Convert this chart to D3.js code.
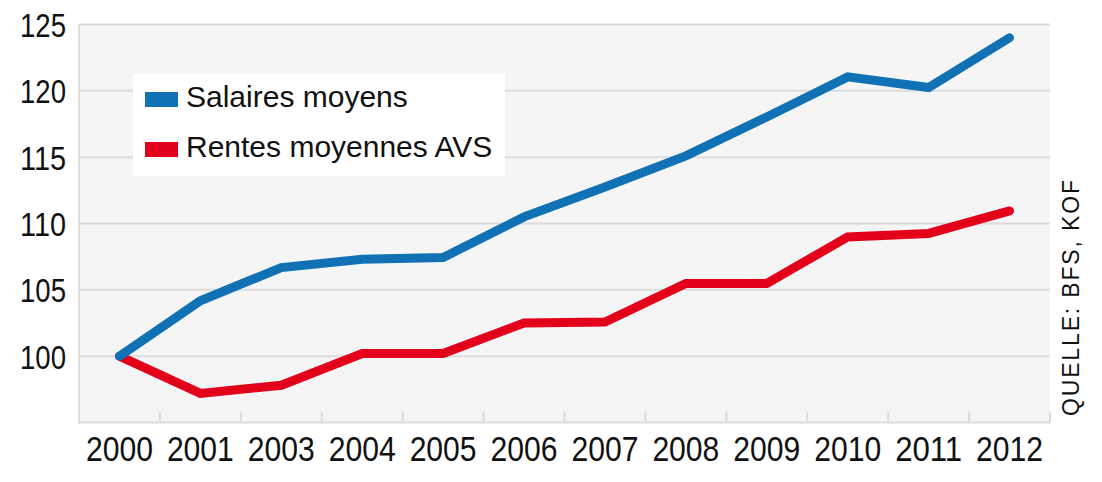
<!DOCTYPE html>
<html lang="fr">
  <head>
    <meta charset="UTF-8" />
    <script src="https://d3js.org/d3.v7.min.js"></script>
    <style>
      body { margin: 0; background: #fff; }
      text { fill: #111; }
    </style>
  </head>
  <body>
    <div id="chart"></div>
    <script>
      // data (index 2000 = 100)
      const years = ['2000', '2001', '2003', '2004', '2005', '2006', '2007', '2008', '2009', '2010', '2011', '2012']
      const salaires = [100, 104.17, 106.68, 107.31, 107.44, 110.5, 112.75, 115.1, 118.03, 121.05, 120.25, 124.0]
      const rentes = [100, 97.19, 97.81, 100.2, 100.2, 102.5, 102.58, 105.48, 105.48, 108.99, 109.25, 110.95]
      const yTicks = [100, 105, 110, 115, 120, 125]
      const seriesNames = ['Salaires moyens', 'Rentes moyennes AVS']
      const source = 'QUELLE: BFS, KOF'

      const width = 1102, height = 482
      const plotLeft = 79, plotRight = 1050, plotTop = 24.5, plotBottom = 422.5
      const blue = '#1071b5', red = '#e2001a', grid = '#dcdcdc'
      // no condensed font installed, so squeeze the regular one
      const narrow = '"Liberation Sans Narrow", "Liberation Sans", sans-serif'

      const svg = d3
        .select('#chart')
        .append('svg')
        .attr('width', width)
        .attr('height', height)

      const x = d3.scaleBand().domain(years).range([plotLeft, plotRight])
      const y = d3.scaleLinear().domain([95, 125]).range([plotBottom, plotTop])

      // plot background
      svg
        .append('rect')
        .attr('x', plotLeft)
        .attr('y', y(125))
        .attr('width', plotRight - plotLeft)
        .attr('height', plotBottom - y(125))
        .attr('fill', '#f5f5f5')

      // horizontal grid lines
      svg
        .append('g')
        .selectAll('line')
        .data(yTicks)
        .join('line')
        .attr('x1', plotLeft)
        .attr('x2', plotRight)
        .attr('y1', d => y(d))
        .attr('y2', d => y(d))
        .attr('stroke', grid)
        .attr('stroke-width', 2)

      // Y axis labels
      const yAxis = svg
        .append('g')
        .attr('transform', `translate(${plotLeft}, 0)`)
        .call(d3.axisLeft(y).tickValues(yTicks).tickSize(0).tickPadding(13))
      yAxis.select('.domain').remove()
      yAxis
        .selectAll('text')
        .attr('font-family', narrow)
        .attr('font-size', 33)
        .attr('fill', '#111')
        .attr('dy', '0.36em')
        .attr('textLength', 46)
        .attr('lengthAdjust', 'spacingAndGlyphs')

      // X axis: short ticks on band edges + labels
      svg
        .append('g')
        .selectAll('line')
        .data(years)
        .join('line')
        .attr('x1', d => x(d) + x.bandwidth())
        .attr('x2', d => x(d) + x.bandwidth())
        .attr('y1', plotBottom - 11)
        .attr('y2', plotBottom)
        .attr('stroke', grid)
        .attr('stroke-width', 2)

      const xAxis = svg
        .append('g')
        .attr('transform', `translate(0, ${plotBottom})`)
        .call(d3.axisBottom(x).tickSize(0).tickPadding(14))
      xAxis.select('.domain').remove()
      xAxis
        .selectAll('text')
        .attr('font-family', narrow)
        .attr('font-size', 35)
        .attr('fill', '#111')
        .attr('textLength', 67)
        .attr('lengthAdjust', 'spacingAndGlyphs')

      // axis lines
      svg
        .append('line')
        .attr('x1', plotLeft)
        .attr('x2', plotLeft)
        .attr('y1', y(125))
        .attr('y2', plotBottom + 1)
        .attr('stroke', grid)
        .attr('stroke-width', 2)
      svg
        .append('line')
        .attr('x1', plotLeft)
        .attr('x2', plotRight)
        .attr('y1', plotBottom)
        .attr('y2', plotBottom)
        .attr('stroke', grid)
        .attr('stroke-width', 2)

      // lines
      const line = d3
        .line()
        .x((d, i) => x(years[i]) + x.bandwidth() / 2)
        .y(d => y(d))

      ;[[rentes, red], [salaires, blue]].forEach(([values, color]) => {
        svg
          .append('path')
          .datum(values)
          .attr('d', line)
          .attr('fill', 'none')
          .attr('stroke', color)
          .attr('stroke-width', 9)
          .attr('stroke-linecap', 'round')
          .attr('stroke-linejoin', 'miter')
      })

      // legend
      const legend = svg.append('g')
      legend
        .append('rect')
        .attr('x', 133)
        .attr('y', 74)
        .attr('width', 372)
        .attr('height', 102)
        .attr('fill', '#fff')
      const items = legend
        .selectAll('g')
        .data(seriesNames)
        .join('g')
        .attr('transform', (d, i) => `translate(145, ${92 + i * 50})`)
      items
        .append('rect')
        .attr('width', 33)
        .attr('height', 15)
        .attr('fill', (d, i) => [blue, red][i])
      items
        .append('text')
        .attr('x', 41)
        .attr('y', 15)
        .attr('font-family', '"Liberation Sans", Arial, sans-serif')
        .attr('font-size', 30)
        .text(d => d)

      // source, spaced out
      svg
        .append('text')
        .attr('transform', 'translate(1079, 416) rotate(-90)')
        .attr('font-family', '"Liberation Sans", sans-serif')
        .attr('font-size', 23)
        .attr('fill', '#222')
        .attr('textLength', 236)
        .attr('lengthAdjust', 'spacing')
        .text(source)
    </script>
  </body>
</html>
